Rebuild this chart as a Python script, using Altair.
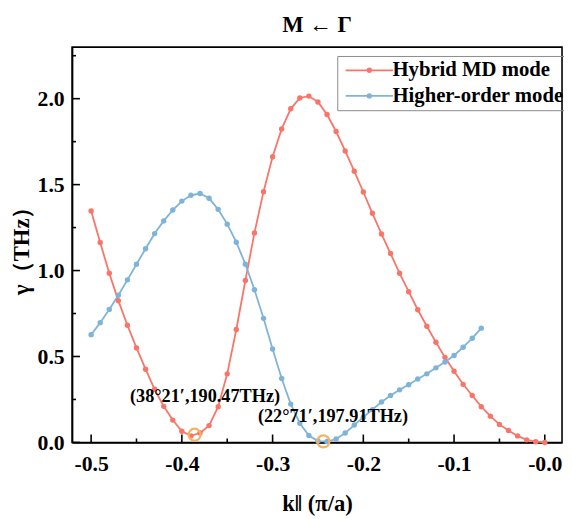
import altair as alt
import pandas as pd

# ---- data ----
k_hybrid = [-0.50, -0.49, -0.48, -0.47, -0.46, -0.45, -0.44, -0.43, -0.42, -0.41,
            -0.40, -0.39, -0.38, -0.37, -0.36, -0.35, -0.34, -0.33, -0.32, -0.31,
            -0.30, -0.29, -0.28, -0.27, -0.26, -0.25, -0.24, -0.23, -0.22, -0.21,
            -0.20, -0.19, -0.18, -0.17, -0.16, -0.15, -0.14, -0.13, -0.12, -0.11,
            -0.10, -0.09, -0.08, -0.07, -0.06, -0.05, -0.04, -0.03, -0.02, -0.01, 0.00]
g_hybrid = [1.347, 1.163, 0.984, 0.825, 0.682, 0.550, 0.426, 0.309, 0.210, 0.130,
            0.065, 0.038, 0.055, 0.098, 0.208, 0.399, 0.657, 0.942, 1.219, 1.459,
            1.662, 1.824, 1.941, 2.004, 2.015, 1.981, 1.908, 1.809, 1.696, 1.578,
            1.457, 1.333, 1.213, 1.099, 0.984, 0.877, 0.772, 0.676, 0.583, 0.495,
            0.414, 0.338, 0.273, 0.208, 0.153, 0.105, 0.069, 0.038, 0.015, 0.004, 0.000]

k_higher = [-0.50, -0.49, -0.48, -0.47, -0.46, -0.45, -0.44, -0.43, -0.42, -0.41,
            -0.40, -0.39, -0.38, -0.37, -0.36, -0.35, -0.34, -0.33, -0.32, -0.31,
            -0.30, -0.29, -0.28, -0.27, -0.26, -0.25, -0.24, -0.23, -0.22, -0.21,
            -0.20, -0.19, -0.18, -0.17, -0.16, -0.15, -0.14, -0.13, -0.12, -0.11,
            -0.10, -0.09, -0.08, -0.07]
g_higher = [0.627, 0.697, 0.774, 0.856, 0.946, 1.037, 1.127, 1.215, 1.289, 1.352,
            1.404, 1.438, 1.448, 1.421, 1.356, 1.270, 1.165, 1.037, 0.888, 0.722,
            0.544, 0.372, 0.223, 0.112, 0.040, 0.008, 0.005, 0.020, 0.055, 0.101,
            0.147, 0.191, 0.235, 0.273, 0.306, 0.336, 0.369, 0.399, 0.434, 0.468,
            0.506, 0.554, 0.606, 0.665]

series_names = ["Hybrid MD mode", "Higher-order mode"]
series_colors = ["#F8756A", "#7FB3D8"]

marker_k = [-0.386, -0.244]
marker_g = [0.045, 0.006]

label_k = [-0.3745, -0.2335]
label_g = [0.272, 0.155]
label_text = ["(38°21′,190.47THz)", "(22°71′,197.91THz)"]

x_major = [-0.5, -0.4, -0.3, -0.2, -0.1, 0.0]
x_minor = [-0.45, -0.35, -0.25, -0.15, -0.05]
y_major = [0.0, 0.5, 1.0, 1.5, 2.0]
y_minor = [0.25, 0.75, 1.25, 1.75, 2.25]

X_DOMAIN = [-0.521, 0.019]
Y_DOMAIN = [0.0, 2.3]
W, H = 497, 401
FONT = "Liberation Serif"

lines_df = pd.DataFrame({
    "k": k_hybrid + k_higher,
    "g": g_hybrid + g_higher,
    "series": [series_names[0]] * len(k_hybrid) + [series_names[1]] * len(k_higher),
})
marker_df = pd.DataFrame({"k": marker_k, "g": marker_g})
label_df = pd.DataFrame({"k": label_k, "g": label_g, "t": label_text})

xs = alt.Scale(domain=X_DOMAIN, nice=False, zero=False)
ys = alt.Scale(domain=Y_DOMAIN, nice=False, zero=False)

# legend symbol: a line with a dot drawn as small stroked rings
legend_path = ("M-1,0L7,0"
               "M2.7,0a0.3,0.3 0 1,0 0.6,0a0.3,0.3 0 1,0 -0.6,0"
               "M2.88,0a0.12,0.12 0 1,0 0.24,0a0.12,0.12 0 1,0 -0.24,0")

lines = alt.Chart(lines_df).mark_line(
    strokeWidth=1.8,
    point=alt.OverlayMarkDef(size=30, filled=True, opacity=1),
).encode(
    x=alt.X("k:Q", scale=xs, axis=alt.Axis(
        values=x_major, title="k‖ (π/a)", grid=False, ticks=False,
        labelExpr="'-' + format(abs(datum.value), '.1f')",
        labelPadding=11, titlePadding=19)),
    y=alt.Y("g:Q", scale=ys, axis=alt.Axis(
        values=y_major, title="γ（THz）", grid=False, ticks=False,
        format=".1f", labelPadding=8, titlePadding=4)),
    color=alt.Color("series:N",
                    scale=alt.Scale(domain=series_names, range=series_colors),
                    sort=series_names,
                    legend=alt.Legend(
                        title=None, orient="none", legendX=269, legendY=9,
                        symbolType=legend_path, symbolSize=144,
                        symbolStrokeWidth=1.8, labelOffset=31, labelLimit=400,
                        labelFont=FONT, labelFontSize=21, labelFontWeight="bold",
                        labelColor="black", strokeColor="#8a8a8a",
                        padding=4, rowPadding=4)),
)

markers = alt.Chart(marker_df).mark_point(
    shape="circle", filled=False, size=150, strokeWidth=2.2, color="#F7B163", opacity=1
).encode(x=alt.X("k:Q", scale=xs), y=alt.Y("g:Q", scale=ys))

labels = alt.Chart(label_df).mark_text(
    font=FONT, fontSize=18.5, fontWeight="bold", color="black", align="center", baseline="middle"
).encode(x=alt.X("k:Q", scale=xs), y=alt.Y("g:Q", scale=ys), text="t:N")

xmaj_df = pd.DataFrame({"v": x_major})
xmin_df = pd.DataFrame({"v": x_minor})
ymaj_df = pd.DataFrame({"v": y_major})
ymin_df = pd.DataFrame({"v": y_minor})

# inward-pointing tick marks
tick_x_major = alt.Chart(xmaj_df).mark_tick(color="black", thickness=1.6, size=8, opacity=1).encode(
    x=alt.X("v:Q", scale=xs), y=alt.value(H - 4))
tick_x_minor = alt.Chart(xmin_df).mark_tick(color="black", thickness=1.6, size=4, opacity=1).encode(
    x=alt.X("v:Q", scale=xs), y=alt.value(H - 2))
tick_y_major = alt.Chart(ymaj_df).mark_tick(color="black", thickness=1.6, size=8, opacity=1).encode(
    y=alt.Y("v:Q", scale=ys), x=alt.value(4))
tick_y_minor = alt.Chart(ymin_df).mark_tick(color="black", thickness=1.6, size=4, opacity=1).encode(
    y=alt.Y("v:Q", scale=ys), x=alt.value(2))

chart = alt.layer(
    tick_x_major, tick_x_minor, tick_y_major, tick_y_minor,
    lines, markers, labels,
).properties(
    width=W, height=H,
    title=alt.TitleParams("M ← Γ", font=FONT, fontSize=23, fontWeight="bold",
                          color="black", anchor="middle", offset=10),
    autosize=alt.AutoSizeParams(type="none"),
    padding={"left": 65, "top": 36, "right": 2, "bottom": 74},
).configure_view(
    stroke="black", strokeWidth=1.6
).configure_axis(
    domainColor="black", domainWidth=1.6,
    labelFont=FONT, labelFontSize=22, labelFontWeight="bold", labelColor="black",
    titleFont=FONT, titleFontSize=23, titleFontWeight="bold", titleColor="black",
)

chart.save("out.html", embed_options={"renderer": "svg", "actions": False})
